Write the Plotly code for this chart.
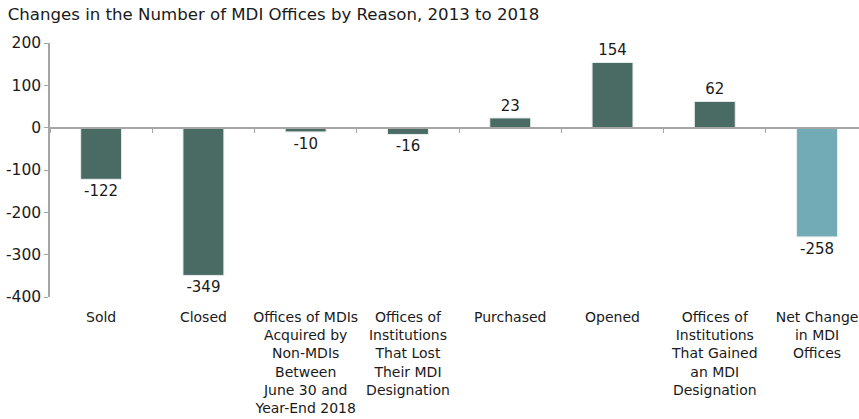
import plotly.graph_objects as go

categories = ["Sold", "Closed",
              "Offices of MDIs<br>Acquired by<br>Non-MDIs<br>Between<br>June 30 and<br>Year-End 2018",
              "Offices of<br>Institutions<br>That Lost<br>Their MDI<br>Designation",
              "Purchased", "Opened",
              "Offices of<br>Institutions<br>That Gained<br>an MDI<br>Designation",
              "Net Change<br>in MDI<br>Offices"]
values = [-122, -349, -10, -16, 23, 154, 62, -258]
colors = ["#4a6b64"] * 7 + ["#72aab5"]
y_ticks = [200, 100, 0, -100, -200, -300, -400]
y_tick_labels = ["200", "100", "0", "-100", "-200", "-300", "-400"]

FONT = "DejaVu Sans"
xs = list(range(len(categories)))

fig = go.Figure()
fig.add_trace(go.Bar(
    x=xs, y=values, width=0.4,
    marker=dict(color=colors, line=dict(color="#e8eeec", width=1)),
    text=[str(v) for v in values], textposition="outside",
    textfont=dict(family=FONT, size=15, color="#1a1a1a"),
    cliponaxis=False, showlegend=False, hoverinfo="skip",
))
# invisible trace to anchor the zero-line axis with boundary ticks
fig.add_trace(go.Scatter(x=[0], y=[0], xaxis="x2", mode="markers",
                         marker=dict(opacity=0), showlegend=False, hoverinfo="skip"))

xr = [-0.5, 7.41]
fig.update_layout(
    width=859, height=419,
    margin=dict(l=50, r=0, t=43, b=122, autoexpand=False),
    paper_bgcolor="white", plot_bgcolor="white",
    font=dict(family=FONT, color="#1a1a1a"),
    title=dict(text="Changes in the Number of MDI Offices by Reason, 2013 to 2018",
               x=0.009, xanchor="left", y=0.967, yanchor="middle",
               font=dict(family=FONT, size=16.6, color="#1a1a1a")),
    xaxis=dict(range=xr, tickvals=xs, ticktext=categories, showline=False,
               showgrid=False, zeroline=False, ticks="", ticklabelstandoff=10,
               automargin=False,
               tickfont=dict(family=FONT, size=14, color="#1a1a1a")),
    xaxis2=dict(range=xr, overlaying="x", anchor="free", position=2/3,
                side="bottom", showline=True, linecolor="#a6a6a6", linewidth=1.5,
                ticks="outside", ticklen=5, tickcolor="#a6a6a6", tickwidth=1,
                tickvals=[i + 0.5 for i in range(-1, 8)], showticklabels=False,
                showgrid=False, zeroline=False, automargin=False),
    yaxis=dict(range=[-400, 200], tickvals=y_ticks, ticktext=y_tick_labels,
               showgrid=False, zeroline=False,
               showline=True, linecolor="#a6a6a6", linewidth=1.5, automargin=False,
               ticks="outside", ticklen=4, tickcolor="#a6a6a6",
               tickfont=dict(family=FONT, size=15.5, color="#1a1a1a")),
)
fig.write_html("out.html", config={"displayModeBar": False})

# remove the browser's default body margin so the figure sits at the page corner
with open("out.html", "r", encoding="utf-8") as f:
    html = f.read()
html = html.replace("<head>", "<head><style>html,body{margin:0;padding:0;overflow:hidden;}</style>", 1)
with open("out.html", "w", encoding="utf-8") as f:
    f.write(html)
